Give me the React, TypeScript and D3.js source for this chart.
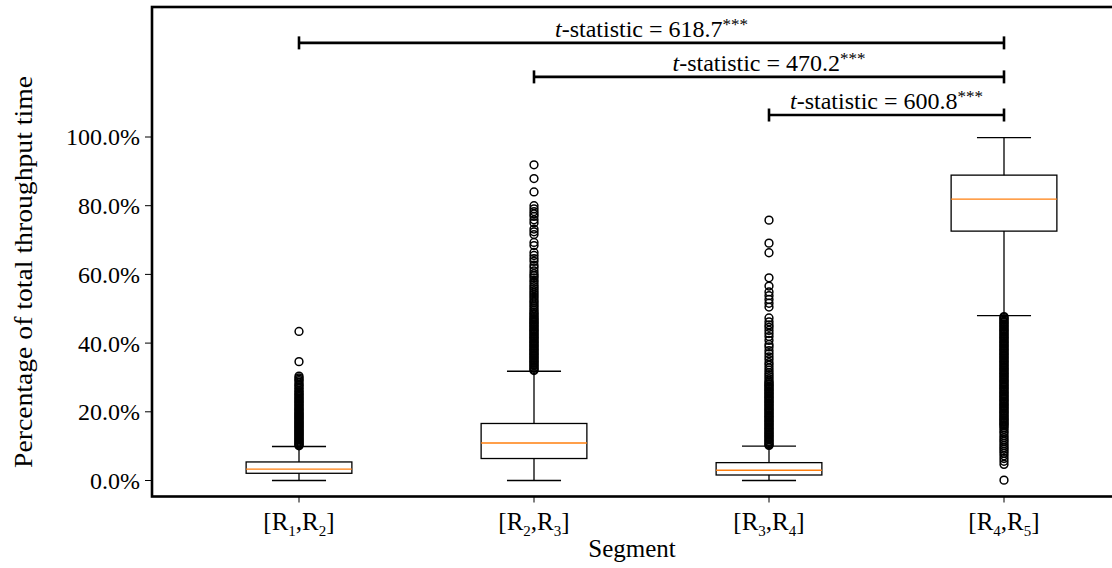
import React from 'react';
import * as d3 from 'd3';

// segments [R_from, R_to]
const segmentFrom = [1, 2, 3, 4];
const segmentTo = [2, 3, 4, 5];

// box statistics, percent of total throughput time
const whiskerLow = [0, 0, 0, 48.0];
const q1 = [2.1, 6.4, 1.6, 72.6];
const medians = [3.3, 10.9, 3.0, 81.9];
const q3 = [5.4, 16.6, 5.2, 88.9];
const whiskerHigh = [9.9, 31.8, 10.0, 99.8];

// fliers (dense columns included)
const outliersR12 = [
  43.4, 34.6, 30.4, 29.9, 29.5, 29.1, 28.6, 28.0, 27.7, 27.2, 26.8, 26.3, 25.9, 25.5, 25.1, 24.8,
  24.4, 24.0, 23.7, 23.3, 23.0, 22.6, 22.3, 21.9, 21.6, 21.2, 20.9, 20.6, 20.2, 19.9, 19.6, 19.3,
  19.0, 18.7, 18.4, 18.1, 17.8, 17.5, 17.2, 16.9, 16.6, 16.3, 16.0, 15.7, 15.4, 15.1, 14.8, 14.5,
  14.2, 13.9, 13.6, 13.3, 13.0, 12.7, 12.4, 12.1, 11.8, 11.5, 11.2, 10.9, 10.6, 10.3, 10.1
];
const outliersR23 = [
  91.9, 87.9, 84.0, 80.0, 79.1, 78.3, 77.6, 76.9, 75.9, 75.0, 73.2, 72.4, 71.6, 69.3, 68.4, 66.4,
  65.5, 64.6, 63.8, 62.7, 61.9, 61.0, 60.2, 59.6, 59.0, 58.3, 57.7, 57.0, 56.4, 55.8, 55.2, 54.6,
  54.0, 53.4, 52.8, 52.2, 51.7, 51.1, 50.6, 50.0, 49.5, 49.0, 48.6, 48.2, 47.8, 47.4,
  47.0, 46.7, 46.3, 46.0, 45.6, 45.3, 44.9, 44.6, 44.2, 43.9, 43.5, 43.2, 42.8, 42.5, 42.1, 41.8,
  41.4, 41.1, 40.7, 40.4, 40.0, 39.7, 39.3, 39.0, 38.6, 38.3, 37.9, 37.6, 37.2, 36.9, 36.5, 36.2,
  35.8, 35.5, 35.1, 34.8, 34.4, 34.1, 33.7, 33.4, 33.0, 32.7, 32.3, 32.0
];
const outliersR34 = [
  75.8, 69.1, 66.3, 59.0, 56.6, 54.9, 53.8, 52.7, 51.6, 50.5, 47.3, 46.2, 45.3, 44.6, 43.7, 42.8,
  41.9, 40.8, 39.6, 38.9, 37.8, 36.9, 36.0, 35.2, 34.3, 33.6, 32.8, 32.1, 31.4, 30.8, 30.2, 29.6,
  29.0, 28.6, 28.2, 27.9, 27.5, 27.2, 26.8, 26.5, 26.1, 25.8, 25.4, 25.1, 24.7, 24.4, 24.0, 23.7,
  23.3, 23.0, 22.6, 22.3, 21.9, 21.6, 21.2, 20.9, 20.5, 20.2, 19.8, 19.5, 19.1, 18.8, 18.4, 18.1,
  17.7, 17.4, 17.0, 16.7, 16.3, 16.0, 15.6, 15.3, 14.9, 14.6, 14.2, 13.9, 13.5, 13.2, 12.8, 12.5,
  12.1, 11.8, 11.4, 11.1, 10.7, 10.4, 10.2
];
const outliersR45 = [
  47.7, 47.4, 47.0, 46.7, 46.3, 46.0, 45.6, 45.3, 44.9, 44.6, 44.2, 43.9, 43.5, 43.2, 42.8, 42.5,
  42.1, 41.8, 41.4, 41.1, 40.7, 40.4, 40.0, 39.7, 39.3, 39.0, 38.6, 38.3, 37.9, 37.6, 37.2, 36.9,
  36.5, 36.2, 35.8, 35.5, 35.1, 34.8, 34.4, 34.1, 33.7, 33.4, 33.0, 32.7, 32.3, 32.0, 31.6, 31.3,
  30.9, 30.6, 30.2, 29.9, 29.5, 29.2, 28.8, 28.5, 28.1, 27.8, 27.4, 27.1, 26.7, 26.4, 26.0, 25.7,
  25.3, 25.0, 24.6, 24.3, 23.9, 23.6, 23.2, 22.9, 22.5, 22.2, 21.8, 21.5, 21.1, 20.8, 20.4, 20.1,
  19.7, 19.4, 19.0, 18.7, 18.3, 18.0, 17.6, 17.3, 16.9, 16.6, 16.2, 15.9,
  15.4, 14.9, 14.3, 13.8, 13.1, 12.5, 11.9, 11.4, 10.8, 10.2, 9.6, 9.1, 8.5, 7.9, 7.2, 6.4,
  5.6, 4.7, 0.1
];
const outliers = [outliersR12, outliersR23, outliersR34, outliersR45];

const yTicks = [0, 20, 40, 60, 80, 100];

// t-test brackets: segment index pairs and statistics
const compareFrom = [0, 1, 2];
const compareTo = [3, 3, 3];
const tStatistics = ['618.7', '470.2', '600.8'];

const W = 1112;
const H = 568;
const FONT = "'Liberation Serif', 'Times New Roman', serif";

const frame = { left: 152, top: 7, bottom: 496.5, right: 1160 };
// bracket heights in data units (above the 100% line)
const bracketLevels = [127.4, 117.5, 106.4];

export default function App() {
  const x = d3.scaleLinear().domain([1, 4]).range([299, 1004]);
  const y = d3.scaleLinear().domain([0, 100]).range([480.5, 137]);
  const unit = x(2) - x(1);
  const boxHalf = unit * 0.225;
  const capHalf = unit * 0.115;
  const fmt = d3.format('.1f');

  return (
    <div style={{ position: 'absolute', left: 0, top: 0 }}>
      <svg width={W} height={H} style={{ display: 'block', background: '#fff', fontFamily: FONT }}>
        {/* boxes */}
        {segmentFrom.map((_, i) => {
          const cx = x(i + 1);
          return (
            <g key={i} stroke="#000" strokeWidth={1.3} fill="none">
              <line x1={cx} x2={cx} y1={y(q3[i])} y2={y(whiskerHigh[i])} />
              <line x1={cx} x2={cx} y1={y(q1[i])} y2={y(whiskerLow[i])} />
              <line x1={cx - capHalf} x2={cx + capHalf} y1={y(whiskerHigh[i])} y2={y(whiskerHigh[i])} />
              <line x1={cx - capHalf} x2={cx + capHalf} y1={y(whiskerLow[i])} y2={y(whiskerLow[i])} />
              <rect x={cx - boxHalf} width={boxHalf * 2} y={y(q3[i])} height={y(q1[i]) - y(q3[i])} />
              <line
                x1={cx - boxHalf}
                x2={cx + boxHalf}
                y1={y(medians[i])}
                y2={y(medians[i])}
                stroke="#ff7f0e"
                strokeWidth={1.4}
              />
              {outliers[i].map((v, j) => (
                <circle key={j} cx={cx} cy={y(v)} r={3.9} strokeWidth={1.5} />
              ))}
            </g>
          );
        })}

        {/* frame */}
        <rect
          x={frame.left}
          y={frame.top}
          width={frame.right - frame.left}
          height={frame.bottom - frame.top}
          fill="none"
          stroke="#000"
          strokeWidth={2.6}
        />

        {/* y axis */}
        {yTicks.map((t) => (
          <g key={t}>
            <line x1={frame.left - 7} x2={frame.left} y1={y(t)} y2={y(t)} stroke="#000" strokeWidth={1} />
            <text x={frame.left - 12} y={y(t)} dy="0.35em" textAnchor="end" fontSize={24} fill="#000">
              {fmt(t)}%
            </text>
          </g>
        ))}
        <text
          transform={`translate(32,${272}) rotate(-90)`}
          textAnchor="middle"
          fontSize={26}
          textLength={392}
          lengthAdjust="spacingAndGlyphs"
          fill="#000"
        >
          Percentage of total throughput time
        </text>

        {/* x axis */}
        {segmentFrom.map((a, i) => (
          <g key={i}>
            <line x1={x(i + 1)} x2={x(i + 1)} y1={frame.bottom} y2={frame.bottom + 6} stroke="#000" strokeWidth={1} />
            <text x={x(i + 1)} y={530} textAnchor="middle" fontSize={25} fill="#000">
              [R<tspan fontSize={15} dy={6}>{a}</tspan>
              <tspan dy={-6}>,R</tspan>
              <tspan fontSize={15} dy={6}>{segmentTo[i]}</tspan>
              <tspan dy={-6}>]</tspan>
            </text>
          </g>
        ))}
        <text x={(frame.left + 1112) / 2} y={557} textAnchor="middle" fontSize={25} fill="#000">
          Segment
        </text>

        {/* significance brackets */}
        {compareFrom.map((a, i) => {
          const x1 = x(a + 1);
          const x2 = x(compareTo[i] + 1);
          const by = y(bracketLevels[i]);
          return (
            <g key={i}>
              <g stroke="#000" strokeWidth={2.6}>
                <line x1={x1} x2={x2} y1={by} y2={by} />
                <line x1={x1} x2={x1} y1={by - 6.5} y2={by + 6.5} />
                <line x1={x2} x2={x2} y1={by - 6.5} y2={by + 6.5} />
              </g>
              <text x={(x1 + x2) / 2} y={by - 6} textAnchor="middle" fontSize={24} fill="#000">
                <tspan fontStyle="italic">t</tspan>-statistic = {tStatistics[i]}
                <tspan fontSize={17} dy={-7}>***</tspan>
              </text>
            </g>
          );
        })}
      </svg>
    </div>
  );
}
